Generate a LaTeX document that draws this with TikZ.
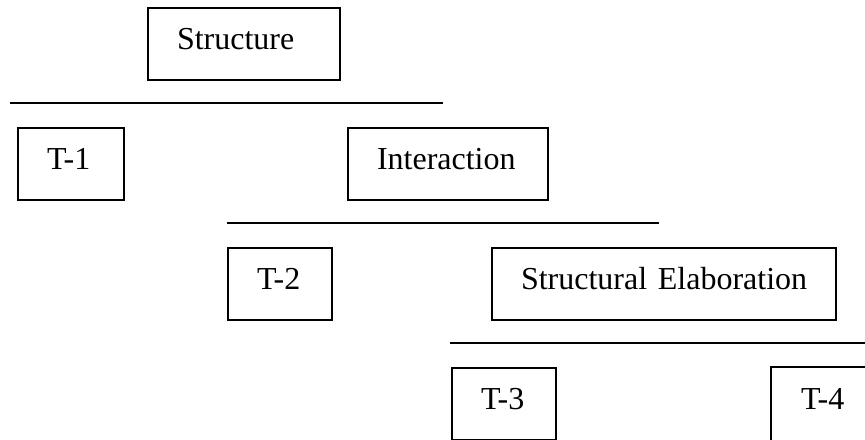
\documentclass[tikz,border=0pt]{standalone}
\usepackage{fontspec}
\setmainfont{Liberation Serif}
\exhyphenpenalty=10000
\hyphenpenalty=10000
\begin{document}
\begin{tikzpicture}[x=0.5pt,y=-0.5pt,
  tbase/.style={line width=1pt, inner xsep=14.5pt, inner ysep=0pt,
    anchor=north west, text height=20.5pt, text depth=15.5pt,
    text width=#1, align=left, font=\fontsize{16pt}{19pt}\selectfont},
  tbox/.style={tbase=#1, draw},
  rule/.style={line width=1.2pt}]
\useasboundingbox (0,0) rectangle (865,439);
\clip (0,0) rectangle (865,439);
% boxes
\node[tbox=67pt]  (structure)   at (147,7)   {Structure};
\node[tbox=24pt]  (t1)          at (17,127)  {T-1};
\node[tbox=71pt]  (interaction) at (347,127) {Interaction};
\node[tbox=23pt]  (t2)          at (227,247) {T-2};
\node[tbox=143pt] (elab)        at (491,247) {\mbox{Structural Elaboration}};
\node[tbox=23pt]  (t3)          at (451,367) {T-3};
% T-4 runs past the right edge of the picture
\node[tbase=40pt] (t4)          at (771,367) {T-4};
\draw[line width=1pt] (t4.north east) -- (t4.north west) -- (t4.south west) -- (t4.south east);
% rules
\coordinate (l1a) at (10,103);  \coordinate (l1b) at (443,103);
\coordinate (l2a) at (227,223); \coordinate (l2b) at (659,223);
\coordinate (l3a) at (450,343); \coordinate (l3b) at (866,343);
\draw[rule] (l1a) -- (l1b);
\draw[rule] (l2a) -- (l2b);
\draw[rule] (l3a) -- (l3b);
\end{tikzpicture}
\end{document}
